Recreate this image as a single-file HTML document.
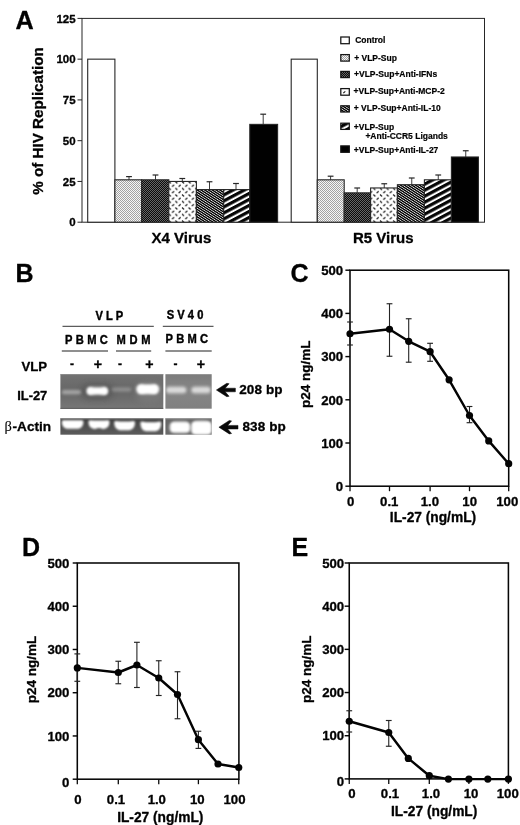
<!DOCTYPE html>
<html lang="en">
<head>
<meta charset="utf-8">
<title>Figure: IL-27 inhibits HIV replication</title>
<style>
  html, body { margin: 0; padding: 0; background: #ffffff; }
  body { width: 520px; height: 825px; overflow: hidden; }
  svg { display: block; will-change: transform; }
  svg text { font-family: "Liberation Sans", Arial, Helvetica, sans-serif; fill: #000000; stroke: #000000; stroke-width: 0.32px; stroke-linejoin: round; }
  svg .leg text { stroke-width: 0.2px; }
  svg tspan.beta { stroke-width: 0.1px; }
</style>
</head>
<body>
<svg width="520" height="825" viewBox="0 0 520 825">
<rect width="520" height="825" fill="#ffffff"/>
<g opacity="0.999">

<defs>
  <!-- bar hatch patterns -->
  <pattern id="pDot" width="2" height="2" patternUnits="userSpaceOnUse">
    <rect width="2" height="2" fill="#f6f6f6"/>
    <rect x="0" y="0" width="1" height="1" fill="#a2a2a2"/>
    <rect x="1" y="1" width="1" height="1" fill="#a2a2a2"/>
  </pattern>
  <pattern id="pDark" width="2" height="2" patternUnits="userSpaceOnUse">
    <rect width="2" height="2" fill="#0a0a0a"/>
    <rect x="0" y="0" width="1" height="1" fill="#666666"/>
    <rect x="1" y="1" width="1" height="1" fill="#666666"/>
  </pattern>
  <pattern id="pDash" width="6.6" height="6.5" patternUnits="userSpaceOnUse">
    <rect width="6.6" height="6.5" fill="#ffffff"/>
    <path d="M0.5 4.6 L2.5 2.8 M3.8 -0.45 L5.8 1.35 M3.8 6.05 L5.8 7.85" stroke="#1c1c1c" stroke-width="1.25" fill="none"/>
  </pattern>
  <pattern id="pFine" width="6" height="2.05" patternUnits="userSpaceOnUse" patternTransform="rotate(33)">
    <rect width="6" height="2.05" fill="#e4e4e4"/>
    <rect x="0" y="0" width="6" height="1.3" fill="#000000"/>
  </pattern>
  <pattern id="pWide" width="6" height="5.3" patternUnits="userSpaceOnUse" patternTransform="rotate(-28)">
    <rect width="6" height="5.3" fill="#ffffff"/>
    <rect x="0" y="0" width="6" height="3.2" fill="#050505"/>
  </pattern>
  <!-- gel -->
  <filter id="b1" x="-30%" y="-80%" width="160%" height="260%"><feGaussianBlur stdDeviation="1.1"/></filter>
  <filter id="b2" x="-30%" y="-80%" width="160%" height="260%"><feGaussianBlur stdDeviation="1.7"/></filter>
  <filter id="b3" x="-30%" y="-80%" width="160%" height="260%"><feGaussianBlur stdDeviation="0.75"/></filter>
  <filter id="b5" x="-30%" y="-80%" width="160%" height="260%"><feGaussianBlur stdDeviation="0.95"/></filter>
  <filter id="b4" x="-40%" y="-100%" width="180%" height="300%"><feGaussianBlur stdDeviation="3"/></filter>
  <linearGradient id="gelA" x1="0" y1="0" x2="0" y2="1">
    <stop offset="0" stop-color="#727272"/><stop offset="0.5" stop-color="#666666"/><stop offset="1" stop-color="#777777"/>
  </linearGradient>
  <linearGradient id="gelB" x1="0" y1="0" x2="0" y2="1">
    <stop offset="0" stop-color="#7c7c7c"/><stop offset="0.45" stop-color="#868686"/><stop offset="1" stop-color="#808080"/>
  </linearGradient>
  <linearGradient id="gelC" x1="0" y1="0" x2="0" y2="1">
    <stop offset="0" stop-color="#404040"/><stop offset="0.5" stop-color="#4e4e4e"/><stop offset="1" stop-color="#5c5c5c"/>
  </linearGradient>
  <linearGradient id="gelD" x1="0" y1="0" x2="0" y2="1">
    <stop offset="0" stop-color="#666666"/><stop offset="1" stop-color="#6a6a6a"/>
  </linearGradient>
  <clipPath id="cA1"><rect x="60.4" y="374.2" width="102.9" height="34.5"/></clipPath>
  <clipPath id="cA2"><rect x="165.4" y="374.2" width="46.3" height="34.5"/></clipPath>
  <clipPath id="cB1"><rect x="60.4" y="418.3" width="102.9" height="16.4"/></clipPath>
  <clipPath id="cB2"><rect x="165.4" y="418.3" width="46.3" height="16.4"/></clipPath>
</defs>

<g id="panelA">
<text x="15.40" y="29.10" font-size="25.2" text-anchor="start" font-weight="bold" >A</text>
<text transform="translate(43.4,121) rotate(-90)" font-size="15.2" text-anchor="middle" font-weight="bold">% of HIV Replication</text>
<rect x="82.0" y="18.4" width="402.5" height="203.79999999999998" fill="none" stroke="#262626" stroke-width="1"/>
<line x1="77.50" y1="222.20" x2="82.00" y2="222.20" stroke="#262626" stroke-width="1" />
<text x="75.60" y="226.35" font-size="11.5" text-anchor="end" font-weight="bold" >0</text>
<line x1="77.50" y1="181.44" x2="82.00" y2="181.44" stroke="#262626" stroke-width="1" />
<text x="75.60" y="185.59" font-size="11.5" text-anchor="end" font-weight="bold" >25</text>
<line x1="77.50" y1="140.68" x2="82.00" y2="140.68" stroke="#262626" stroke-width="1" />
<text x="75.60" y="144.83" font-size="11.5" text-anchor="end" font-weight="bold" >50</text>
<line x1="77.50" y1="99.92" x2="82.00" y2="99.92" stroke="#262626" stroke-width="1" />
<text x="75.60" y="104.07" font-size="11.5" text-anchor="end" font-weight="bold" >75</text>
<line x1="77.50" y1="59.16" x2="82.00" y2="59.16" stroke="#262626" stroke-width="1" />
<text x="75.60" y="63.31" font-size="11.5" text-anchor="end" font-weight="bold" >100</text>
<line x1="77.50" y1="18.40" x2="82.00" y2="18.40" stroke="#262626" stroke-width="1" />
<text x="75.60" y="22.55" font-size="11.5" text-anchor="end" font-weight="bold" >125</text>
<rect x="87.70" y="59.16" width="27.20" height="163.04" fill="#ffffff" stroke="#262626" stroke-width="1.1"/>
<rect x="114.90" y="179.81" width="26.70" height="42.39" fill="url(#pDot)" stroke="#262626" stroke-width="1.1"/>
<rect x="141.60" y="179.81" width="27.20" height="42.39" fill="url(#pDark)" stroke="#262626" stroke-width="1.1"/>
<rect x="168.80" y="181.44" width="27.60" height="40.76" fill="url(#pDash)" stroke="#262626" stroke-width="1.1"/>
<rect x="196.40" y="189.59" width="27.30" height="32.61" fill="url(#pFine)" stroke="#262626" stroke-width="1.1"/>
<rect x="223.70" y="189.59" width="26.10" height="32.61" fill="url(#pWide)" stroke="#262626" stroke-width="1.1"/>
<rect x="249.80" y="124.38" width="27.80" height="97.82" fill="#000000" stroke="#262626" stroke-width="1.1"/>
<line x1="129.00" y1="176.60" x2="129.00" y2="179.81" stroke="#262626" stroke-width="0.9" />
<line x1="126.10" y1="176.60" x2="131.90" y2="176.60" stroke="#262626" stroke-width="1.2" />
<line x1="155.50" y1="175.00" x2="155.50" y2="179.81" stroke="#262626" stroke-width="0.9" />
<line x1="152.60" y1="175.00" x2="158.40" y2="175.00" stroke="#262626" stroke-width="1.2" />
<line x1="182.30" y1="178.50" x2="182.30" y2="181.44" stroke="#262626" stroke-width="0.9" />
<line x1="179.40" y1="178.50" x2="185.20" y2="178.50" stroke="#262626" stroke-width="1.2" />
<line x1="209.50" y1="181.75" x2="209.50" y2="189.59" stroke="#262626" stroke-width="0.9" />
<line x1="206.60" y1="181.75" x2="212.40" y2="181.75" stroke="#262626" stroke-width="1.2" />
<line x1="236.00" y1="183.50" x2="236.00" y2="189.59" stroke="#262626" stroke-width="0.9" />
<line x1="233.10" y1="183.50" x2="238.90" y2="183.50" stroke="#262626" stroke-width="1.2" />
<line x1="263.20" y1="114.20" x2="263.20" y2="124.38" stroke="#262626" stroke-width="0.9" />
<line x1="260.30" y1="114.20" x2="266.10" y2="114.20" stroke="#262626" stroke-width="1.2" />
<rect x="291.20" y="59.16" width="26.10" height="163.04" fill="#ffffff" stroke="#262626" stroke-width="1.1"/>
<rect x="317.30" y="179.81" width="26.90" height="42.39" fill="url(#pDot)" stroke="#262626" stroke-width="1.1"/>
<rect x="344.20" y="192.85" width="26.40" height="29.35" fill="url(#pDark)" stroke="#262626" stroke-width="1.1"/>
<rect x="370.60" y="187.96" width="26.80" height="34.24" fill="url(#pDash)" stroke="#262626" stroke-width="1.1"/>
<rect x="397.40" y="184.70" width="27.00" height="37.50" fill="url(#pFine)" stroke="#262626" stroke-width="1.1"/>
<rect x="424.40" y="179.81" width="27.00" height="42.39" fill="url(#pWide)" stroke="#262626" stroke-width="1.1"/>
<rect x="451.40" y="156.98" width="27.00" height="65.22" fill="#000000" stroke="#262626" stroke-width="1.1"/>
<line x1="330.60" y1="176.20" x2="330.60" y2="179.81" stroke="#262626" stroke-width="0.9" />
<line x1="327.70" y1="176.20" x2="333.50" y2="176.20" stroke="#262626" stroke-width="1.2" />
<line x1="357.20" y1="188.00" x2="357.20" y2="192.85" stroke="#262626" stroke-width="0.9" />
<line x1="354.30" y1="188.00" x2="360.10" y2="188.00" stroke="#262626" stroke-width="1.2" />
<line x1="384.25" y1="183.75" x2="384.25" y2="187.96" stroke="#262626" stroke-width="0.9" />
<line x1="381.35" y1="183.75" x2="387.15" y2="183.75" stroke="#262626" stroke-width="1.2" />
<line x1="411.75" y1="178.00" x2="411.75" y2="184.70" stroke="#262626" stroke-width="0.9" />
<line x1="408.85" y1="178.00" x2="414.65" y2="178.00" stroke="#262626" stroke-width="1.2" />
<line x1="438.25" y1="175.00" x2="438.25" y2="179.81" stroke="#262626" stroke-width="0.9" />
<line x1="435.35" y1="175.00" x2="441.15" y2="175.00" stroke="#262626" stroke-width="1.2" />
<line x1="465.75" y1="150.75" x2="465.75" y2="156.98" stroke="#262626" stroke-width="0.9" />
<line x1="462.85" y1="150.75" x2="468.65" y2="150.75" stroke="#262626" stroke-width="1.2" />
<text x="181.50" y="242.80" font-size="15" text-anchor="middle" font-weight="bold" >X4 Virus</text>
<text x="383.20" y="242.80" font-size="15" text-anchor="middle" font-weight="bold" >R5 Virus</text>
<g class="leg">
<rect x="340.8" y="37.00" width="8.5" height="6.70" fill="#ffffff" stroke="#141414" stroke-width="1.25"/>
<text x="355.20" y="43.10" font-size="8.5" text-anchor="start" font-weight="bold" >Control</text>
<rect x="340.8" y="54.60" width="8.5" height="6.50" fill="url(#pDot)" stroke="#141414" stroke-width="1.25"/>
<text x="354.20" y="60.80" font-size="8.5" text-anchor="start" font-weight="bold" >+ VLP-Sup</text>
<rect x="340.8" y="71.40" width="8.5" height="6.20" fill="url(#pDark)" stroke="#141414" stroke-width="1.25"/>
<text x="354.00" y="77.10" font-size="8.5" text-anchor="start" font-weight="bold" >+VLP-Sup+Anti-IFNs</text>
<rect x="340.8" y="88.60" width="8.5" height="6.60" fill="#ffffff" stroke="#141414" stroke-width="1.25"/>
<line x1="343.30" y1="93.20" x2="345.30" y2="91.30" stroke="#1c1c1c" stroke-width="1.1" />
<text x="353.60" y="94.40" font-size="8.5" text-anchor="start" font-weight="bold" >+VLP-Sup+Anti-MCP-2</text>
<rect x="340.8" y="105.80" width="8.5" height="6.20" fill="url(#pFine)" stroke="#141414" stroke-width="1.25"/>
<text x="353.80" y="111.20" font-size="8.5" text-anchor="start" font-weight="bold" >+ VLP-Sup+Anti-IL-10</text>
<rect x="340.8" y="123.20" width="8.5" height="6.20" fill="url(#pWide)" stroke="#141414" stroke-width="1.25"/>
<text x="353.80" y="130.00" font-size="8.5" text-anchor="start" font-weight="bold" >+VLP-Sup</text>
<rect x="340.8" y="145.90" width="8.5" height="6.40" fill="#000000" stroke="#141414" stroke-width="1.25"/>
<text x="353.80" y="152.90" font-size="8.5" text-anchor="start" font-weight="bold" >+VLP-Sup+Anti-IL-27</text>
<text x="365.40" y="139.40" font-size="8.5" text-anchor="start" font-weight="bold" >+Anti-CCR5 Ligands</text>
</g>
</g>
<g id="panelB">
<text x="15.50" y="282.10" font-size="25" text-anchor="start" font-weight="bold" >B</text>
<text transform="translate(95.60,319.60) scale(0.9,1)" font-size="12.4" font-weight="bold" letter-spacing="3.33" style="stroke-width:0.42px">VLP</text>
<text transform="translate(166.80,319.40) scale(0.9,1)" font-size="12.4" font-weight="bold" letter-spacing="3.44" style="stroke-width:0.42px">SV40</text>
<line x1="62.50" y1="326.40" x2="153.80" y2="326.40" stroke="#5c5c5c" stroke-width="1.2" />
<line x1="162.80" y1="326.40" x2="213.50" y2="326.40" stroke="#5c5c5c" stroke-width="1.2" />
<text transform="translate(65.00,343.60) scale(0.9,1)" font-size="12.4" font-weight="bold" letter-spacing="3.72" style="stroke-width:0.42px">PBMC</text>
<text transform="translate(116.40,343.60) scale(0.9,1)" font-size="12.4" font-weight="bold" letter-spacing="4.22" style="stroke-width:0.42px">MDM</text>
<text transform="translate(165.40,343.40) scale(0.9,1)" font-size="12.4" font-weight="bold" letter-spacing="3.67" style="stroke-width:0.42px">PBMC</text>
<line x1="61.80" y1="351.00" x2="108.00" y2="351.00" stroke="#6a6a6a" stroke-width="1.7" />
<line x1="116.00" y1="351.00" x2="151.20" y2="351.00" stroke="#6a6a6a" stroke-width="1.7" />
<line x1="165.40" y1="351.00" x2="211.70" y2="351.00" stroke="#6a6a6a" stroke-width="1.7" />
<text x="72.00" y="367.60" font-size="12" text-anchor="middle" font-weight="bold" >-</text>
<text x="98.00" y="368.90" font-size="14.2" text-anchor="middle" font-weight="bold" >+</text>
<text x="120.00" y="367.60" font-size="12" text-anchor="middle" font-weight="bold" >-</text>
<text x="149.30" y="368.90" font-size="14.2" text-anchor="middle" font-weight="bold" >+</text>
<text x="175.50" y="367.60" font-size="12" text-anchor="middle" font-weight="bold" >-</text>
<text x="200.80" y="368.90" font-size="14.2" text-anchor="middle" font-weight="bold" >+</text>
<text x="21.40" y="370.60" font-size="13.2" text-anchor="start" font-weight="bold" >VLP</text>
<text x="17.20" y="400.40" font-size="12.9" text-anchor="start" font-weight="bold" >IL-27</text>
<text x="4.6" y="430.5" font-size="13.6" font-weight="bold"><tspan class="beta" font-family="&quot;Liberation Serif&quot;, serif" font-weight="normal" font-size="14.5">β</tspan><tspan dx="0.6">-Actin</tspan></text>
<rect x="60.4" y="374.2" width="102.9" height="34.5" fill="url(#gelA)"/>
<rect x="165.4" y="374.2" width="46.3" height="34.5" fill="url(#gelB)"/>
<rect x="60.4" y="418.3" width="102.9" height="16.4" fill="url(#gelC)"/>
<rect x="165.4" y="418.3" width="46.3" height="16.4" fill="url(#gelD)"/>
<g clip-path="url(#cA1)"><rect x="82.20" y="384.00" width="30.00" height="15.00" rx="7.50" fill="#3c3c3c" opacity="0.45" filter="url(#b4)"/></g>
<g clip-path="url(#cA1)"><rect x="135.00" y="382.00" width="30.00" height="20.00" rx="10.00" fill="#909090" opacity="0.35" filter="url(#b4)"/></g>
<g clip-path="url(#cA1)"><rect x="61.65" y="390.10" width="19.50" height="4.20" rx="2.10" fill="#ffffff" opacity="0.42" filter="url(#b2)"/></g>
<g clip-path="url(#cA1)"><rect x="85.95" y="386.40" width="22.50" height="8.80" rx="4.40" fill="#ffffff" opacity="0.5" filter="url(#b2)"/></g>
<g clip-path="url(#cA1)"><path d="M90.85 387.15 Q97.40 389.05 103.95 387.15 Q107.80 387.15 107.80 391.00 Q107.80 394.85 103.95 394.85 Q97.40 392.95 90.85 394.85 Q87.00 394.85 87.00 391.00 Q87.00 387.15 90.85 387.15 Z" fill="#ffffff" opacity="1.0" filter="url(#b5)"/></g>
<g clip-path="url(#cA1)"><rect x="111.40" y="387.60" width="20.00" height="4.20" rx="2.10" fill="#ffffff" opacity="0.26" filter="url(#b2)"/></g>
<g clip-path="url(#cA1)"><rect x="135.60" y="383.90" width="24.00" height="10.40" rx="5.20" fill="#ffffff" opacity="0.5" filter="url(#b2)"/></g>
<g clip-path="url(#cA1)"><path d="M141.75 384.45 Q147.75 385.55 153.75 384.45 Q158.50 384.45 158.50 389.20 Q158.50 393.95 153.75 393.95 Q147.75 392.85 141.75 393.95 Q137.00 393.95 137.00 389.20 Q137.00 384.45 141.75 384.45 Z" fill="#ffffff" opacity="1.0" filter="url(#b5)"/></g>
<g clip-path="url(#cA2)"><rect x="165.95" y="386.50" width="20.50" height="7.00" rx="3.50" fill="#ffffff" opacity="0.62" filter="url(#b2)"/></g>
<g clip-path="url(#cA2)"><rect x="167.45" y="388.70" width="17.50" height="2.60" rx="1.30" fill="#ffffff" opacity="0.28" filter="url(#b1)"/></g>
<g clip-path="url(#cA2)"><rect x="191.25" y="386.50" width="19.50" height="7.00" rx="3.50" fill="#ffffff" opacity="0.62" filter="url(#b2)"/></g>
<g clip-path="url(#cA2)"><rect x="192.75" y="388.70" width="16.50" height="2.60" rx="1.30" fill="#ffffff" opacity="0.28" filter="url(#b1)"/></g>
<g clip-path="url(#cB1)"><path d="M63.00 420.30 Q72.60 420.30 82.20 420.30 Q83.40 420.30 83.40 421.90 C83.40 427.80 78.90 428.80 76.49 428.80 Q72.60 428.80 68.71 428.80 C66.30 428.80 61.80 427.80 61.80 421.90 Q61.80 420.30 63.00 420.30 Z" fill="#ffffff" filter="url(#b5)"/></g>
<g clip-path="url(#cB1)"><path d="M89.70 420.30 Q99.00 420.70 108.30 420.30 Q109.50 420.30 109.50 421.90 C109.50 427.90 105.00 428.90 102.78 428.90 Q99.00 426.90 95.22 428.90 C93.00 428.90 88.50 427.90 88.50 421.90 Q88.50 420.30 89.70 420.30 Z" fill="#ffffff" filter="url(#b5)"/></g>
<g clip-path="url(#cB1)"><path d="M115.40 421.00 Q124.60 422.00 133.80 421.00 Q135.00 421.00 135.00 422.60 C135.00 429.30 130.50 430.30 128.34 430.30 Q124.60 430.30 120.86 430.30 C118.70 430.30 114.20 429.30 114.20 422.60 Q114.20 421.00 115.40 421.00 Z" fill="#ffffff" filter="url(#b5)"/></g>
<g clip-path="url(#cB1)"><path d="M141.60 421.40 Q150.80 423.20 160.00 421.40 Q161.20 421.40 161.20 423.00 C161.20 430.30 156.70 431.30 154.54 431.30 Q150.80 431.30 147.06 431.30 C144.90 431.30 140.40 430.30 140.40 423.00 Q140.40 421.40 141.60 421.40 Z" fill="#ffffff" filter="url(#b5)"/></g>
<g clip-path="url(#cB2)"><rect x="169.00" y="421.05" width="22.00" height="12.50" rx="6.25" fill="#ffffff" opacity="0.45" filter="url(#b2)"/></g>
<g clip-path="url(#cB2)"><rect x="190.40" y="420.40" width="22.00" height="15.00" rx="7.50" fill="#ffffff" opacity="0.5" filter="url(#b2)"/></g>
<g clip-path="url(#cB2)"><rect x="170.4" y="422.3" width="19.2" height="10.0" rx="3.6" fill="#ffffff" filter="url(#b1)"/></g>
<g clip-path="url(#cB2)"><rect x="191.8" y="421.6" width="19.4" height="12.6" rx="3.8" fill="#ffffff" filter="url(#b1)"/></g>
<line x1="60.40" y1="374.60" x2="163.30" y2="374.60" stroke="#8a8a8a" stroke-width="0.8" />
<line x1="60.40" y1="408.40" x2="163.30" y2="408.40" stroke="#4a4a4a" stroke-width="0.8" />
<line x1="60.40" y1="418.80" x2="163.30" y2="418.80" stroke="#8c8c8c" stroke-width="0.9" />
<line x1="165.40" y1="418.80" x2="211.70" y2="418.80" stroke="#9a9a9a" stroke-width="0.9" />
<path d="M216.40 390.00 L226.80 383.30 L229.10 383.70 L225.20 388.20 L235.40 388.20 L235.40 391.80 L225.20 391.80 L229.10 396.30 L226.80 396.70 Z" fill="#080808" stroke="#080808" stroke-width="0.5" stroke-linejoin="round"/>
<path d="M218.90 427.20 L229.30 420.50 L231.60 420.90 L227.70 425.40 L238.00 425.40 L238.00 429.00 L227.70 429.00 L231.60 433.50 L229.30 433.90 Z" fill="#080808" stroke="#080808" stroke-width="0.5" stroke-linejoin="round"/>
<text x="239.20" y="394.10" font-size="13.5" text-anchor="start" font-weight="bold" letter-spacing="0.12">208 bp</text>
<text x="242.40" y="431.30" font-size="13.5" text-anchor="start" font-weight="bold" letter-spacing="0.12">838 bp</text>
</g>
<g id="panelC">
<text x="290.60" y="282.00" font-size="25" text-anchor="start" font-weight="bold" >C</text>
<rect x="350.00" y="270.20" width="158.70" height="216.00" fill="none" stroke="#060606" stroke-width="1.55"/>
<line x1="345.40" y1="270.20" x2="350.00" y2="270.20" stroke="#060606" stroke-width="1.45" />
<text x="343.20" y="274.90" font-size="13.2" text-anchor="end" font-weight="bold" >500</text>
<line x1="345.40" y1="313.40" x2="350.00" y2="313.40" stroke="#060606" stroke-width="1.45" />
<text x="343.20" y="318.10" font-size="13.2" text-anchor="end" font-weight="bold" >400</text>
<line x1="345.40" y1="356.60" x2="350.00" y2="356.60" stroke="#060606" stroke-width="1.45" />
<text x="343.20" y="361.30" font-size="13.2" text-anchor="end" font-weight="bold" >300</text>
<line x1="345.40" y1="399.80" x2="350.00" y2="399.80" stroke="#060606" stroke-width="1.45" />
<text x="343.20" y="404.50" font-size="13.2" text-anchor="end" font-weight="bold" >200</text>
<line x1="345.40" y1="443.00" x2="350.00" y2="443.00" stroke="#060606" stroke-width="1.45" />
<text x="343.20" y="447.70" font-size="13.2" text-anchor="end" font-weight="bold" >100</text>
<line x1="345.40" y1="486.20" x2="350.00" y2="486.20" stroke="#060606" stroke-width="1.45" />
<text x="343.20" y="490.90" font-size="13.2" text-anchor="end" font-weight="bold" >0</text>
<line x1="350.00" y1="486.20" x2="350.00" y2="491.20" stroke="#0a0a0a" stroke-width="1.3" />
<line x1="389.50" y1="486.20" x2="389.50" y2="491.20" stroke="#0a0a0a" stroke-width="1.3" />
<line x1="430.10" y1="486.20" x2="430.10" y2="491.20" stroke="#0a0a0a" stroke-width="1.3" />
<line x1="469.50" y1="486.20" x2="469.50" y2="491.20" stroke="#0a0a0a" stroke-width="1.3" />
<line x1="508.70" y1="486.20" x2="508.70" y2="491.20" stroke="#0a0a0a" stroke-width="1.3" />
<text x="350.75" y="505.70" font-size="13.2" text-anchor="middle" font-weight="bold" >0</text>
<text x="389.25" y="505.70" font-size="13.2" text-anchor="middle" font-weight="bold" >0.1</text>
<text x="429.90" y="505.70" font-size="13.2" text-anchor="middle" font-weight="bold" >1.0</text>
<text x="469.70" y="505.70" font-size="13.2" text-anchor="middle" font-weight="bold" >10</text>
<text x="507.30" y="505.70" font-size="13.2" text-anchor="middle" font-weight="bold" >100</text>
<text x="433.00" y="522.10" font-size="13.75" text-anchor="middle" font-weight="bold" >IL-27 (ng/mL)</text>
<text transform="translate(309.70,374.20) rotate(-90)" font-size="13.5" text-anchor="middle" font-weight="bold">p24 ng/mL</text>
<line x1="350.00" y1="322.00" x2="350.00" y2="345.00" stroke="#242424" stroke-width="1.1" />
<line x1="347.10" y1="322.00" x2="352.90" y2="322.00" stroke="#242424" stroke-width="1.15" />
<line x1="347.10" y1="345.00" x2="352.90" y2="345.00" stroke="#242424" stroke-width="1.15" />
<line x1="389.50" y1="303.75" x2="389.50" y2="356.25" stroke="#242424" stroke-width="1.1" />
<line x1="386.60" y1="303.75" x2="392.40" y2="303.75" stroke="#242424" stroke-width="1.15" />
<line x1="386.60" y1="356.25" x2="392.40" y2="356.25" stroke="#242424" stroke-width="1.15" />
<line x1="408.70" y1="318.75" x2="408.70" y2="362.20" stroke="#242424" stroke-width="1.1" />
<line x1="405.80" y1="318.75" x2="411.60" y2="318.75" stroke="#242424" stroke-width="1.15" />
<line x1="405.80" y1="362.20" x2="411.60" y2="362.20" stroke="#242424" stroke-width="1.15" />
<line x1="430.10" y1="343.30" x2="430.10" y2="361.30" stroke="#242424" stroke-width="1.1" />
<line x1="427.20" y1="343.30" x2="433.00" y2="343.30" stroke="#242424" stroke-width="1.15" />
<line x1="427.20" y1="361.30" x2="433.00" y2="361.30" stroke="#242424" stroke-width="1.15" />
<line x1="469.50" y1="406.50" x2="469.50" y2="422.70" stroke="#242424" stroke-width="1.1" />
<line x1="466.60" y1="406.50" x2="472.40" y2="406.50" stroke="#242424" stroke-width="1.15" />
<line x1="466.60" y1="422.70" x2="472.40" y2="422.70" stroke="#242424" stroke-width="1.15" />
<polyline points="350.00,333.75 389.50,329.25 408.70,341.30 430.10,351.70 449.10,379.80 469.50,415.50 488.75,440.90 508.70,463.70" fill="none" stroke="#030303" stroke-width="2.45" stroke-linejoin="round"/>
<circle cx="350.00" cy="333.75" r="3.6" fill="#030303"/>
<circle cx="389.50" cy="329.25" r="3.6" fill="#030303"/>
<circle cx="408.70" cy="341.30" r="3.6" fill="#030303"/>
<circle cx="430.10" cy="351.70" r="3.6" fill="#030303"/>
<circle cx="449.10" cy="379.80" r="3.6" fill="#030303"/>
<circle cx="469.50" cy="415.50" r="3.6" fill="#030303"/>
<circle cx="488.75" cy="440.90" r="3.6" fill="#030303"/>
<circle cx="508.70" cy="463.70" r="3.6" fill="#030303"/>
</g>
<g id="panelD">
<text x="22.00" y="555.80" font-size="25" text-anchor="start" font-weight="bold" >D</text>
<rect x="77.30" y="563.00" width="161.60" height="216.20" fill="none" stroke="#060606" stroke-width="1.55"/>
<line x1="72.70" y1="563.00" x2="77.30" y2="563.00" stroke="#060606" stroke-width="1.45" />
<text x="69.40" y="567.70" font-size="13.2" text-anchor="end" font-weight="bold" >500</text>
<line x1="72.70" y1="606.24" x2="77.30" y2="606.24" stroke="#060606" stroke-width="1.45" />
<text x="69.40" y="610.94" font-size="13.2" text-anchor="end" font-weight="bold" >400</text>
<line x1="72.70" y1="649.48" x2="77.30" y2="649.48" stroke="#060606" stroke-width="1.45" />
<text x="69.40" y="654.18" font-size="13.2" text-anchor="end" font-weight="bold" >300</text>
<line x1="72.70" y1="692.72" x2="77.30" y2="692.72" stroke="#060606" stroke-width="1.45" />
<text x="69.40" y="697.42" font-size="13.2" text-anchor="end" font-weight="bold" >200</text>
<line x1="72.70" y1="735.96" x2="77.30" y2="735.96" stroke="#060606" stroke-width="1.45" />
<text x="69.40" y="740.66" font-size="13.2" text-anchor="end" font-weight="bold" >100</text>
<line x1="72.70" y1="779.20" x2="77.30" y2="779.20" stroke="#060606" stroke-width="1.45" />
<text x="69.40" y="786.70" font-size="13.2" text-anchor="end" font-weight="bold" >0</text>
<line x1="77.30" y1="779.20" x2="77.30" y2="784.20" stroke="#0a0a0a" stroke-width="1.3" />
<line x1="118.30" y1="779.20" x2="118.30" y2="784.20" stroke="#0a0a0a" stroke-width="1.3" />
<line x1="158.75" y1="779.20" x2="158.75" y2="784.20" stroke="#0a0a0a" stroke-width="1.3" />
<line x1="198.40" y1="779.20" x2="198.40" y2="784.20" stroke="#0a0a0a" stroke-width="1.3" />
<line x1="238.75" y1="779.20" x2="238.75" y2="784.20" stroke="#0a0a0a" stroke-width="1.3" />
<text x="77.80" y="804.00" font-size="13.2" text-anchor="middle" font-weight="bold" >0</text>
<text x="116.00" y="804.00" font-size="13.2" text-anchor="middle" font-weight="bold" >0.1</text>
<text x="156.80" y="804.00" font-size="13.2" text-anchor="middle" font-weight="bold" >1.0</text>
<text x="197.30" y="804.00" font-size="13.2" text-anchor="middle" font-weight="bold" >10</text>
<text x="234.50" y="804.00" font-size="13.2" text-anchor="middle" font-weight="bold" >100</text>
<text x="160.30" y="821.60" font-size="13.75" text-anchor="middle" font-weight="bold" >IL-27 (ng/mL)</text>
<text transform="translate(36.00,669.50) rotate(-90)" font-size="13.5" text-anchor="middle" font-weight="bold">p24 ng/mL</text>
<line x1="77.30" y1="653.90" x2="77.30" y2="681.30" stroke="#242424" stroke-width="1.1" />
<line x1="74.40" y1="653.90" x2="80.20" y2="653.90" stroke="#242424" stroke-width="1.15" />
<line x1="74.40" y1="681.30" x2="80.20" y2="681.30" stroke="#242424" stroke-width="1.15" />
<line x1="118.30" y1="661.25" x2="118.30" y2="683.75" stroke="#242424" stroke-width="1.1" />
<line x1="115.40" y1="661.25" x2="121.20" y2="661.25" stroke="#242424" stroke-width="1.15" />
<line x1="115.40" y1="683.75" x2="121.20" y2="683.75" stroke="#242424" stroke-width="1.15" />
<line x1="136.90" y1="642.30" x2="136.90" y2="687.50" stroke="#242424" stroke-width="1.1" />
<line x1="134.00" y1="642.30" x2="139.80" y2="642.30" stroke="#242424" stroke-width="1.15" />
<line x1="134.00" y1="687.50" x2="139.80" y2="687.50" stroke="#242424" stroke-width="1.15" />
<line x1="158.75" y1="660.75" x2="158.75" y2="695.50" stroke="#242424" stroke-width="1.1" />
<line x1="155.85" y1="660.75" x2="161.65" y2="660.75" stroke="#242424" stroke-width="1.15" />
<line x1="155.85" y1="695.50" x2="161.65" y2="695.50" stroke="#242424" stroke-width="1.15" />
<line x1="177.50" y1="671.75" x2="177.50" y2="718.75" stroke="#242424" stroke-width="1.1" />
<line x1="174.60" y1="671.75" x2="180.40" y2="671.75" stroke="#242424" stroke-width="1.15" />
<line x1="174.60" y1="718.75" x2="180.40" y2="718.75" stroke="#242424" stroke-width="1.15" />
<line x1="198.40" y1="731.25" x2="198.40" y2="748.40" stroke="#242424" stroke-width="1.1" />
<line x1="195.50" y1="731.25" x2="201.30" y2="731.25" stroke="#242424" stroke-width="1.15" />
<line x1="195.50" y1="748.40" x2="201.30" y2="748.40" stroke="#242424" stroke-width="1.15" />
<polyline points="77.30,667.90 118.30,672.50 136.90,665.00 158.75,678.00 177.50,694.50 198.40,739.70 218.00,764.00 238.75,767.50" fill="none" stroke="#030303" stroke-width="2.45" stroke-linejoin="round"/>
<circle cx="77.30" cy="667.90" r="3.6" fill="#030303"/>
<circle cx="118.30" cy="672.50" r="3.6" fill="#030303"/>
<circle cx="136.90" cy="665.00" r="3.6" fill="#030303"/>
<circle cx="158.75" cy="678.00" r="3.6" fill="#030303"/>
<circle cx="177.50" cy="694.50" r="3.6" fill="#030303"/>
<circle cx="198.40" cy="739.70" r="3.6" fill="#030303"/>
<circle cx="218.00" cy="764.00" r="3.6" fill="#030303"/>
<circle cx="238.75" cy="767.50" r="3.6" fill="#030303"/>
</g>
<g id="panelE">
<text x="291.50" y="555.60" font-size="25" text-anchor="start" font-weight="bold" >E</text>
<rect x="349.25" y="563.00" width="159.15" height="215.90" fill="none" stroke="#060606" stroke-width="1.55"/>
<line x1="344.65" y1="563.00" x2="349.25" y2="563.00" stroke="#060606" stroke-width="1.45" />
<text x="344.20" y="567.70" font-size="13.2" text-anchor="end" font-weight="bold" >500</text>
<line x1="344.65" y1="606.18" x2="349.25" y2="606.18" stroke="#060606" stroke-width="1.45" />
<text x="344.20" y="610.88" font-size="13.2" text-anchor="end" font-weight="bold" >400</text>
<line x1="344.65" y1="649.36" x2="349.25" y2="649.36" stroke="#060606" stroke-width="1.45" />
<text x="344.20" y="654.06" font-size="13.2" text-anchor="end" font-weight="bold" >300</text>
<line x1="344.65" y1="692.54" x2="349.25" y2="692.54" stroke="#060606" stroke-width="1.45" />
<text x="344.20" y="697.24" font-size="13.2" text-anchor="end" font-weight="bold" >200</text>
<line x1="344.65" y1="735.72" x2="349.25" y2="735.72" stroke="#060606" stroke-width="1.45" />
<text x="344.20" y="740.42" font-size="13.2" text-anchor="end" font-weight="bold" >100</text>
<line x1="344.65" y1="778.90" x2="349.25" y2="778.90" stroke="#060606" stroke-width="1.45" />
<text x="344.20" y="785.60" font-size="13.2" text-anchor="end" font-weight="bold" >0</text>
<line x1="349.25" y1="778.90" x2="349.25" y2="783.90" stroke="#0a0a0a" stroke-width="1.3" />
<line x1="388.75" y1="778.90" x2="388.75" y2="783.90" stroke="#0a0a0a" stroke-width="1.3" />
<line x1="429.30" y1="778.90" x2="429.30" y2="783.90" stroke="#0a0a0a" stroke-width="1.3" />
<line x1="468.90" y1="778.90" x2="468.90" y2="783.90" stroke="#0a0a0a" stroke-width="1.3" />
<line x1="508.40" y1="778.90" x2="508.40" y2="783.90" stroke="#0a0a0a" stroke-width="1.3" />
<text x="351.80" y="797.80" font-size="13.2" text-anchor="middle" font-weight="bold" >0</text>
<text x="390.00" y="797.80" font-size="13.2" text-anchor="middle" font-weight="bold" >0.1</text>
<text x="431.00" y="797.80" font-size="13.2" text-anchor="middle" font-weight="bold" >1.0</text>
<text x="471.00" y="797.80" font-size="13.2" text-anchor="middle" font-weight="bold" >10</text>
<text x="507.80" y="797.80" font-size="13.2" text-anchor="middle" font-weight="bold" >100</text>
<text x="434.20" y="816.40" font-size="13.75" text-anchor="middle" font-weight="bold" >IL-27 (ng/mL)</text>
<text transform="translate(310.60,669.20) rotate(-90)" font-size="13.5" text-anchor="middle" font-weight="bold">p24 ng/mL</text>
<line x1="349.25" y1="710.75" x2="349.25" y2="732.00" stroke="#242424" stroke-width="1.1" />
<line x1="346.35" y1="710.75" x2="352.15" y2="710.75" stroke="#242424" stroke-width="1.15" />
<line x1="346.35" y1="732.00" x2="352.15" y2="732.00" stroke="#242424" stroke-width="1.15" />
<line x1="388.75" y1="720.50" x2="388.75" y2="746.25" stroke="#242424" stroke-width="1.1" />
<line x1="385.85" y1="720.50" x2="391.65" y2="720.50" stroke="#242424" stroke-width="1.15" />
<line x1="385.85" y1="746.25" x2="391.65" y2="746.25" stroke="#242424" stroke-width="1.15" />
<polyline points="349.25,721.25 388.75,732.50 408.30,758.40 429.30,775.70 448.40,779.10 468.90,779.10 487.80,779.10 508.40,779.10" fill="none" stroke="#030303" stroke-width="2.45" stroke-linejoin="round"/>
<circle cx="349.25" cy="721.25" r="3.6" fill="#030303"/>
<circle cx="388.75" cy="732.50" r="3.6" fill="#030303"/>
<circle cx="408.30" cy="758.40" r="3.6" fill="#030303"/>
<circle cx="429.30" cy="775.70" r="3.6" fill="#030303"/>
<circle cx="448.40" cy="779.10" r="3.6" fill="#030303"/>
<circle cx="468.90" cy="779.10" r="3.6" fill="#030303"/>
<circle cx="487.80" cy="779.10" r="3.6" fill="#030303"/>
<circle cx="508.40" cy="779.10" r="3.6" fill="#030303"/>
</g>
</g>
</svg>
</body>
</html>
